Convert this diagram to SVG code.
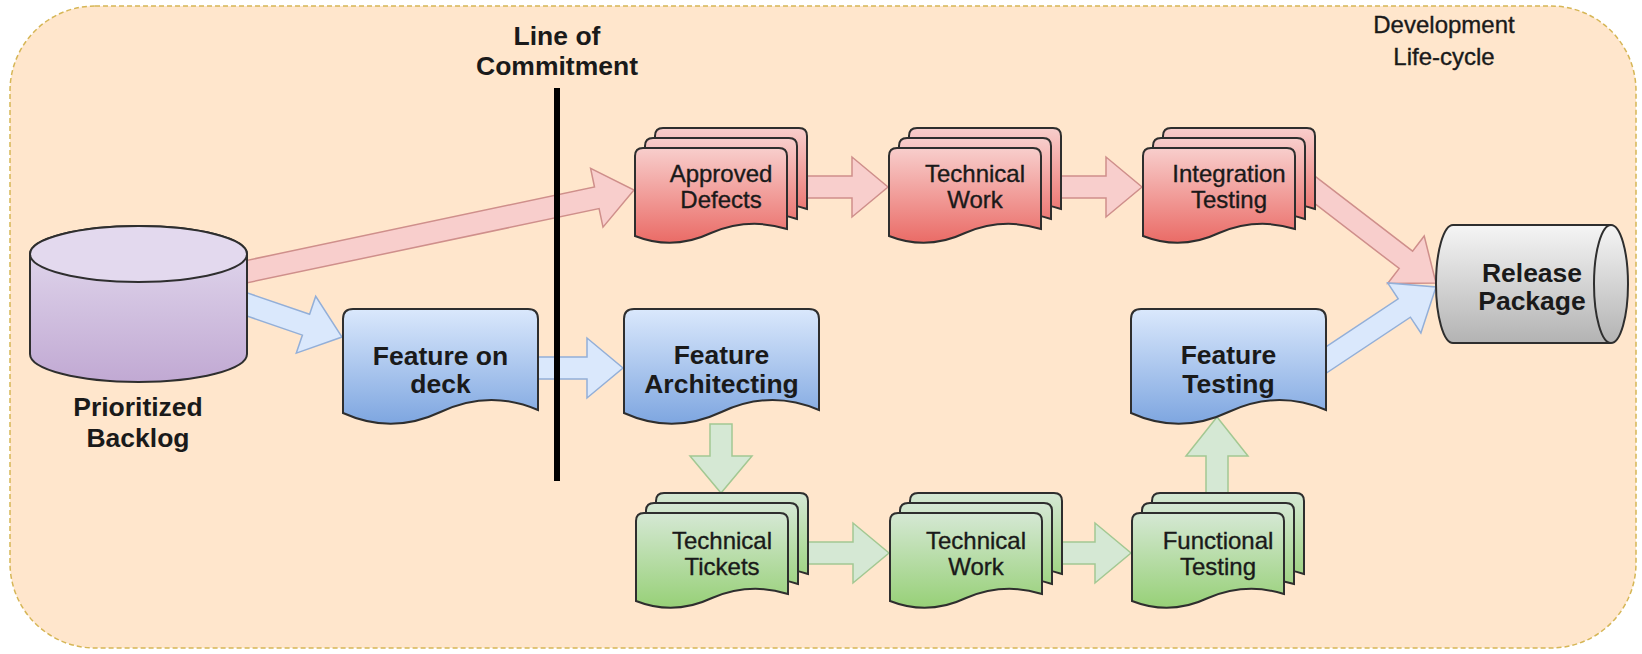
<svg xmlns="http://www.w3.org/2000/svg" xmlns:xlink="http://www.w3.org/1999/xlink" width="1642" height="654" viewBox="0 0 1642 654">
  <style>
    .frame { fill: #ffe6cc; stroke: #d6b656; stroke-width: 1.5; stroke-dasharray: 5 3; }
    .outline { stroke: #2e2e2e; stroke-width: 2; }
    .blue { fill: url(#gBlue); }
    .red { fill: url(#gRed); }
    .green { fill: url(#gGreen); }
    .ar-red { fill: #f8cecc; stroke: #cf8f8b; stroke-width: 1.5; stroke-linejoin: miter; }
    .ar-blue { fill: #dae8fc; stroke: #93afd8; stroke-width: 1.5; }
    .ar-green { fill: #d5e8d4; stroke: #a3c892; stroke-width: 1.5; }
    text { font-family: "Liberation Sans", Arial, Helvetica, sans-serif; fill: #1a1a1a; text-anchor: middle; }
    .b { font-size: 26.5px; font-weight: bold; }
    .r { font-size: 24px; stroke: #1a1a1a; stroke-width: 0.35; }
  </style>
  <defs>
    <linearGradient id="gBlue" x1="0" y1="0" x2="0" y2="1">
      <stop offset="0" stop-color="#dae8fc"/>
      <stop offset="1" stop-color="#7ea6e0"/>
    </linearGradient>
    <linearGradient id="gRed" x1="0" y1="0" x2="0" y2="1">
      <stop offset="0" stop-color="#f8cecc"/>
      <stop offset="1" stop-color="#ea6b66"/>
    </linearGradient>
    <linearGradient id="gGreen" x1="0" y1="0" x2="0" y2="1">
      <stop offset="0" stop-color="#d5e8d4"/>
      <stop offset="1" stop-color="#97d077"/>
    </linearGradient>
    <linearGradient id="gPurple" x1="0" y1="0" x2="0" y2="1">
      <stop offset="0" stop-color="#e4dcef"/>
      <stop offset="1" stop-color="#c1a9d3"/>
    </linearGradient>
    <linearGradient id="gGrey" x1="0" y1="0" x2="0" y2="1">
      <stop offset="0" stop-color="#f5f5f5"/>
      <stop offset="1" stop-color="#b3b3b3"/>
    </linearGradient>
    <!-- single wavy-bottom document, 195 wide -->
    <path id="doc" d="M0,10 Q0,0 10,0 L185,0 Q195,0 195,10 L195,101 Q146.25,80 97.5,103 Q48.75,126 0,104 Z"/>
    <!-- one sheet of a multi-document stack, 152 wide -->
    <path id="page" d="M0,8 Q0,0 8,0 L144,0 Q152,0 152,8 L152,81 Q114,69 76,85 Q38,103 0,88 Z"/>
  </defs>

  <!-- development life-cycle frame -->
  <rect class="frame" x="10" y="6" width="1626" height="642" rx="85" ry="85"/>
  <text class="r" x="1444" y="33">Development</text>
  <text class="r" x="1444" y="65">Life-cycle</text>

  <!-- flex arrows -->
  <g id="connectors">
    <polygon class="ar-red" points="235.9,262.7 594.5,187 590.6,168.4 634,190 603,227.2 599.1,208.6 240.4,284.2"/>
    <polygon class="ar-red" points="805,176 852,176 852,157 888,187 852,217 852,198 805,198"/>
    <polygon class="ar-red" points="1058,176 1106,176 1106,157 1142,187 1106,217 1106,198 1058,198"/>
    <polygon class="ar-red" points="1308.7,171.3 1412.6,251.1 1424.2,236 1436,283 1387.6,283.6 1399.2,268.5 1295.3,188.7"/>
    <polygon class="ar-blue" points="243.6,291.6 309.6,314.3 315.7,296.3 342,337 296.3,353.1 302.4,335.1 236.4,312.4"/>
    <polygon class="ar-blue" points="535,357 587,357 587,338 623,368 587,398 587,379 535,379"/>
    <polygon class="ar-blue" points="1309.7,357.6 1398.2,298.8 1387.7,283 1436,287 1420.9,333 1410.4,317.2 1321.9,376"/>
    <polygon class="ar-green" points="710,424 732,424 732,456 752,456 721,493 690,456 710,456"/>
    <polygon class="ar-green" points="805,542 853,542 853,523 889,553 853,583 853,564 805,564"/>
    <polygon class="ar-green" points="1059,542 1095,542 1095,523 1131,553 1095,583 1095,564 1059,564"/>
    <polygon class="ar-green" points="1206,500 1206,456 1186,456 1217,417 1248,456 1228,456 1228,500"/>
  </g>

  <!-- line of commitment -->
  <g id="commitment">
    <rect x="554" y="88" width="6" height="393" fill="#000"/>
    <text class="b" x="557" y="45">Line of</text>
    <text class="b" x="557" y="75">Commitment</text>
  </g>

  <g id="backlog">
    <path class="outline" fill="url(#gPurple)" d="M30,254 L30,354 A108.5,28 0 0 0 247,354 L247,254 A108.5,28 0 0 0 30,254 Z"/>
    <ellipse class="outline" fill="#e3d9ee" cx="138.5" cy="254" rx="108.5" ry="28"/>
    <text class="b" x="138" y="416">Prioritized</text>
    <text class="b" x="138" y="447">Backlog</text>
  </g>

  <g id="feature-on-deck">
    <use xlink:href="#doc" href="#doc" class="blue outline" x="343" y="309"/>
    <text class="b" x="440.5" y="365">Feature on</text>
    <text class="b" x="440.5" y="393">deck</text>
  </g>

  <g id="feature-architecting">
    <use xlink:href="#doc" href="#doc" class="blue outline" x="624" y="309"/>
    <text class="b" x="721.5" y="364">Feature</text>
    <text class="b" x="721.5" y="393">Architecting</text>
  </g>

  <g id="feature-testing">
    <use xlink:href="#doc" href="#doc" class="blue outline" x="1131" y="309"/>
    <text class="b" x="1228.5" y="364">Feature</text>
    <text class="b" x="1228.5" y="393">Testing</text>
  </g>

  <g id="approved-defects">
    <use xlink:href="#page" href="#page" class="red outline" x="655" y="128"/>
    <use xlink:href="#page" href="#page" class="red outline" x="645" y="138"/>
    <use xlink:href="#page" href="#page" class="red outline" x="635" y="148"/>
    <text class="r" x="721" y="182">Approved</text>
    <text class="r" x="721" y="208">Defects</text>
  </g>

  <g id="technical-work-defects">
    <use xlink:href="#page" href="#page" class="red outline" x="909" y="128"/>
    <use xlink:href="#page" href="#page" class="red outline" x="899" y="138"/>
    <use xlink:href="#page" href="#page" class="red outline" x="889" y="148"/>
    <text class="r" x="975" y="182">Technical</text>
    <text class="r" x="975" y="208">Work</text>
  </g>

  <g id="integration-testing">
    <use xlink:href="#page" href="#page" class="red outline" x="1163" y="128"/>
    <use xlink:href="#page" href="#page" class="red outline" x="1153" y="138"/>
    <use xlink:href="#page" href="#page" class="red outline" x="1143" y="148"/>
    <text class="r" x="1229" y="182">Integration</text>
    <text class="r" x="1229" y="208">Testing</text>
  </g>

  <g id="technical-tickets">
    <use xlink:href="#page" href="#page" class="green outline" x="656" y="493"/>
    <use xlink:href="#page" href="#page" class="green outline" x="646" y="503"/>
    <use xlink:href="#page" href="#page" class="green outline" x="636" y="513"/>
    <text class="r" x="722" y="549">Technical</text>
    <text class="r" x="722" y="575">Tickets</text>
  </g>

  <g id="technical-work-features">
    <use xlink:href="#page" href="#page" class="green outline" x="910" y="493"/>
    <use xlink:href="#page" href="#page" class="green outline" x="900" y="503"/>
    <use xlink:href="#page" href="#page" class="green outline" x="890" y="513"/>
    <text class="r" x="976" y="549">Technical</text>
    <text class="r" x="976" y="575">Work</text>
  </g>

  <g id="functional-testing">
    <use xlink:href="#page" href="#page" class="green outline" x="1152" y="493"/>
    <use xlink:href="#page" href="#page" class="green outline" x="1142" y="503"/>
    <use xlink:href="#page" href="#page" class="green outline" x="1132" y="513"/>
    <text class="r" x="1218" y="549">Functional</text>
    <text class="r" x="1218" y="575">Testing</text>
  </g>

  <g id="release-package">
    <path class="outline" fill="url(#gGrey)" d="M1453,225 A17,59 0 0 0 1453,343 L1611,343 A17,59 0 0 0 1611,225 Z"/>
    <path class="outline" fill="none" d="M1611,225 A17,59 0 0 0 1611,343"/>
    <text class="b" x="1532" y="282">Release</text>
    <text class="b" x="1532" y="310">Package</text>
  </g>
</svg>
